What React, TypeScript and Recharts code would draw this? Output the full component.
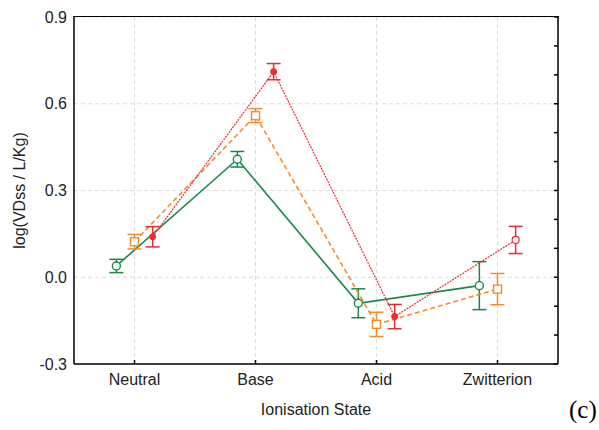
import {
  LineChart,
  Line,
  XAxis,
  YAxis,
  CartesianGrid,
  ErrorBar,
  Label,
} from "recharts";

const categories = ["Neutral", "Base", "Acid", "Zwitterion"];
const yTicks = [-0.3, 0.0, 0.3, 0.6, 0.9];
const rightTicks = [-0.3, -0.2, -0.1, 0.0, 0.1, 0.2, 0.3, 0.4, 0.5, 0.6, 0.7, 0.8, 0.9];

const greenValues = [0.039, 0.408, -0.09, -0.029];
const greenErrors = [0.023, 0.027, 0.05, 0.083];
const orangeValues = [0.123, 0.559, -0.163, -0.041];
const orangeErrors = [0.025, 0.024, 0.042, 0.054];
const redValues = [0.14, 0.711, -0.136, 0.129];
const redErrors = [0.035, 0.028, 0.042, 0.047];

// horizontal jitter of each series around its category
const SHIFT = 0.15;

const GREEN = "#16894a";
const ORANGE = "#f58b2c";
const RED = "#ec2a30";
const FONT = "Arial, 'Liberation Sans', sans-serif";

const toRows = (vals: number[], errs: number[], shift: number) =>
  vals.map((v, i) => ({ x: i + 1 + shift, y: v, err: errs[i] }));

const greenData = toRows(greenValues, greenErrors, -SHIFT);
const orangeData = toRows(orangeValues, orangeErrors, 0);
const redData = toRows(redValues, redErrors, SHIFT);

const GreenDot = (p: any) => (
  <circle key={p.index} cx={p.cx} cy={p.cy} r={4} fill="#fff" stroke={GREEN} strokeWidth={1.4} />
);

const OrangeDot = (p: any) => (
  <rect key={p.index} x={p.cx - 4} y={p.cy - 4} width={8} height={8} fill="#fff" stroke={ORANGE} strokeWidth={1.4} />
);

const RedDot = (p: any) =>
  p.index === 3 ? (
    <circle key={p.index} cx={p.cx} cy={p.cy} r={3.5} fill="#fff" stroke={RED} strokeWidth={1.2} />
  ) : (
    <circle key={p.index} cx={p.cx} cy={p.cy} r={3} fill={RED} stroke={RED} />
  );

const BOTTOM_MARGIN = 10;

const CategoryTick = (p: any) => (
  <g>
    <line x1={p.x} x2={p.x} y1={p.y - BOTTOM_MARGIN} y2={p.y - BOTTOM_MARGIN - 4} stroke="#000" strokeWidth={1.5} />
    <text x={p.x} y={p.y} dy="0.71em" textAnchor="middle" fontSize={16} fontFamily={FONT} fill="#222">
      {categories[p.payload.value - 1]}
    </text>
  </g>
);

const NoLabel = () => <g />;

export default function App() {
  return (
    <div style={{ position: "absolute", left: 0, top: 0, width: 599, height: 430, background: "#fff" }}>
      <LineChart width={599} height={430} margin={{ top: 17, right: 40, left: 0, bottom: 0 }}>
        <CartesianGrid stroke="#dcdcdc" strokeDasharray="4 3" />
        <XAxis
          dataKey="x"
          type="number"
          domain={[0.5, 4.5]}
          ticks={[1, 2, 3, 4]}
          height={66}
          stroke="#000"
          strokeWidth={1.5}
          tickLine={false}
          tickSize={0}
          tickMargin={BOTTOM_MARGIN}
          tick={<CategoryTick />}
          allowDataOverflow
        >
          <Label value="Ionisation State" position="insideBottom" offset={15} fontSize={16} fontFamily={FONT} fill="#222" />
        </XAxis>
        <YAxis
          type="number"
          domain={[-0.3, 0.9]}
          ticks={yTicks}
          width={74}
          stroke="#000"
          strokeWidth={1.5}
          tickLine={false}
          tickSize={0}
          tickMargin={7}
          tickFormatter={(v: number) => v.toFixed(1)}
          tick={{ fontSize: 16, fontFamily: FONT, fill: "#222" }}
          allowDataOverflow
        >
          <Label
            value="log(VDss / L/Kg)"
            angle={-90}
            position="insideLeft"
            offset={19}
            style={{ textAnchor: "middle" }}
            fontSize={16}
            fontFamily={FONT}
            fill="#222"
          />
        </YAxis>
        <YAxis
          yAxisId="right"
          orientation="right"
          type="number"
          domain={[-0.3, 0.9]}
          ticks={rightTicks}
          width={1}
          tick={NoLabel}
          tickSize={-4}
          stroke="#000"
          strokeWidth={1.5}
          allowDataOverflow
        />
        <Line
          data={greenData}
          dataKey="y"
          stroke={GREEN}
          strokeWidth={1.6}
          dot={GreenDot}
          activeDot={false}
          isAnimationActive={false}
        >
          <ErrorBar dataKey="err" stroke={GREEN} strokeWidth={1.5} width={7} />
        </Line>
        <Line
          data={orangeData}
          dataKey="y"
          stroke={ORANGE}
          strokeWidth={1.6}
          strokeDasharray="5 3"
          dot={OrangeDot}
          activeDot={false}
          isAnimationActive={false}
        >
          <ErrorBar dataKey="err" stroke={ORANGE} strokeWidth={1.5} width={7} />
        </Line>
        <Line
          data={redData}
          dataKey="y"
          stroke={RED}
          strokeWidth={1.2}
          strokeDasharray="2 1"
          dot={RedDot}
          activeDot={false}
          isAnimationActive={false}
        >
          <ErrorBar dataKey="err" stroke={RED} strokeWidth={1.5} width={7} />
        </Line>
      </LineChart>
      {/* top edge of the plot frame */}
      <div
        style={{
          position: "absolute",
          left: 73,
          top: 16,
          width: 486,
          height: 0,
          borderTop: "1.5px solid #000",
          pointerEvents: "none",
        }}
      />
      <div
        style={{
          position: "absolute",
          left: 569,
          top: 395,
          lineHeight: "30px",
          fontFamily: "'Liberation Serif', 'DejaVu Serif', serif",
          fontSize: 25,
          color: "#000",
        }}
      >
        (c)
      </div>
    </div>
  );
}
